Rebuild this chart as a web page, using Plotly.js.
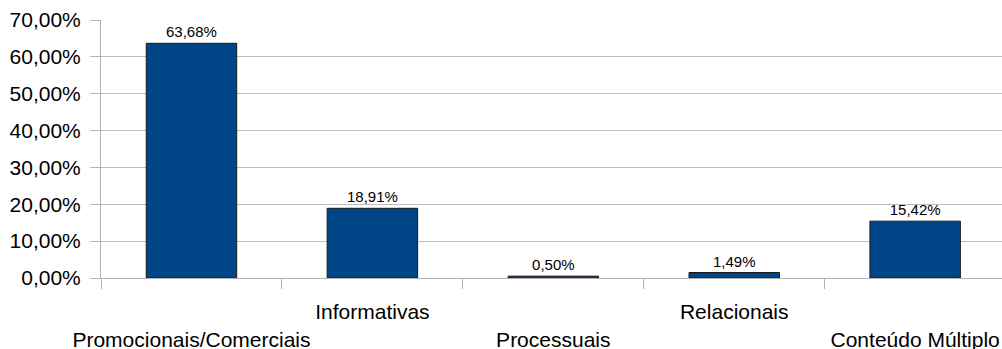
<!DOCTYPE html>
<html>
<head>
<meta charset="utf-8">
<script src="https://cdn.plot.ly/plotly-3.0.1.min.js"></script>
<style>html,body{margin:0;padding:0;background:#fff;}#chart{width:1002px;height:349px;}</style>
</head>
<body>
<div id="chart"></div>
<script>
var categories = ["Promocionais/Comerciais", "Informativas", "Processuais", "Relacionais", "Conteúdo Múltiplo"];
var values = [63.68, 18.91, 0.50, 1.49, 15.42];
var yTicks = [0, 10, 20, 30, 40, 50, 60, 70];
var yTickLabels = ["0,00%", "10,00%", "20,00%", "30,00%", "40,00%", "50,00%", "60,00%", "70,00%"];

// staggered category labels (odd ones on the second row)
var tickLabels = categories.map(function (c, i) {
  return i % 2 === 0 ? "\u00a0<br>" + c : c;
});

var trace = {
  type: "bar",
  x: categories,
  y: values,
  marker: { color: "#004586", line: { color: "#1a1a1a", width: 1 } },
  texttemplate: "%{y:.2f}%",
  textposition: "outside",
  textfont: { family: "Liberation Sans, Arial, sans-serif", size: 15, color: "#000" },
  cliponaxis: false,
  hoverinfo: "none"
};

var layout = {
  width: 1002,
  height: 349,
  margin: { l: 101, r: 0, t: 20, b: 71 },
  paper_bgcolor: "#fff",
  plot_bgcolor: "#fff",
  separators: ",.",
  showlegend: false,
  bargap: 0.5,
  font: { family: "Liberation Sans, Arial, sans-serif", color: "#000" },
  xaxis: {
    type: "category",
    tickmode: "array",
    tickvals: categories,
    ticktext: tickLabels,
    tickangle: 0,
    tickson: "boundaries",
    ticks: "outside",
    ticklen: 10,
    ticklabelstandoff: 15,
    tickcolor: "#b3b3b3",
    tickfont: { size: 21, color: "#000" },
    showline: true,
    linecolor: "#b3b3b3",
    showgrid: false,
    automargin: false,
    range: [-0.5, 4.48],
    fixedrange: true
  },
  yaxis: {
    range: [0, 70],
    tickmode: "array",
    tickvals: yTicks,
    ticktext: yTickLabels,
    ticks: "outside",
    ticklen: 10,
    ticklabelstandoff: 5,
    tickcolor: "#b3b3b3",
    tickfont: { size: 21, color: "#000" },
    showline: true,
    linecolor: "#b3b3b3",
    showgrid: true,
    gridcolor: "#bdbdbd",
    zeroline: false,
    automargin: false,
    fixedrange: true
  }
};

Plotly.newPlot("chart", [trace], layout, { displayModeBar: false, staticPlot: true });
</script>
</body>
</html>
